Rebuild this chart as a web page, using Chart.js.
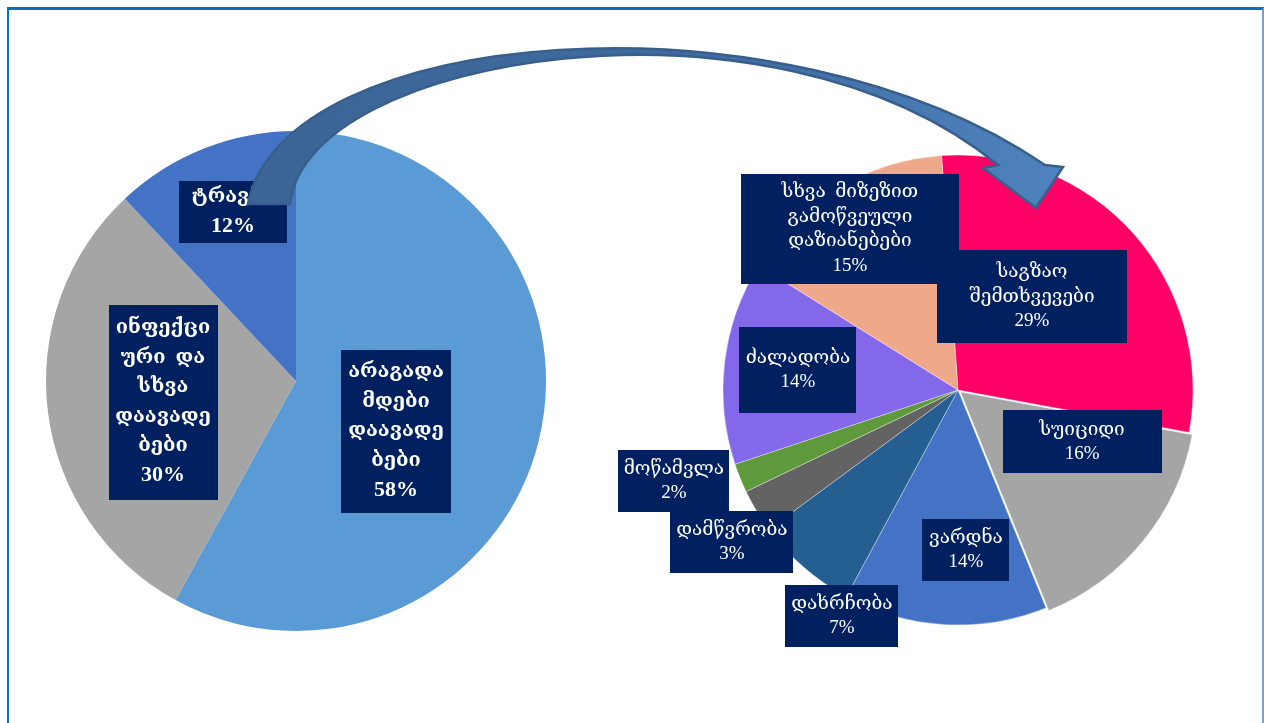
<!DOCTYPE html>
<html>
<head>
<meta charset="utf-8">
<script src="https://cdn.jsdelivr.net/npm/chart.js@4.4.1/dist/chart.umd.min.js"></script>
<style>
  html, body { margin: 0; padding: 0; background: #fff; overflow: hidden; width: 1264px; height: 723px; }
  #frame { position: absolute; left: 7px; top: 7px; width: 1257px; height: 780px; box-sizing: border-box;
           border-left: 2px solid #0B6FC1; border-top: 3px solid #0B6FC1; border-right: 2px solid #6FA3D6; }
  canvas { position: absolute; left: 0; top: 0; }
</style>
</head>
<body>
<div id="frame"></div>
<canvas id="leftPie" width="1264" height="723"></canvas>
<canvas id="rightPie" width="1264" height="723"></canvas>
<script>
// ---- Data: overall burden split ----
const leftCategories = ['არაგადამდები დაავადებები', 'ინფექციური და სხვა დაავადებები', 'ტრავმა'];
const leftValues = [58, 30, 12];
const leftLabelLines = [
  ['არაგადა', 'მდები', 'დაავადე', 'ბები'],
  ['ინფექცი', 'ური  და', 'სხვა', 'დაავადე', 'ბები'],
  ['ტრავმა']
];
const leftColors = ['#5B9BD5', '#A5A5A5', '#4472C4'];

// ---- Data: breakdown of injuries ----
const rightCategories = ['საგზაო შემთხვევები', 'სუიციდი', 'ვარდნა', 'დახრჩობა', 'დამწვრობა', 'მოწამვლა', 'ძალადობა', 'სხვა მიზეზით გამოწვეული დაზიანებები'];
const rightValues = [29, 16, 14, 7, 3, 2, 14, 15];
const rightLabelLines = [
  ['საგზაო', 'შემთხვევები'],
  ['სუიციდი'],
  ['ვარდნა'],
  ['დახრჩობა'],
  ['დამწვრობა'],
  ['მოწამვლა'],
  ['ძალადობა'],
  ['სხვა  მიზეზით', 'გამოწვეული', 'დაზიანებები']
];
const rightColors = ['#FF0066', '#A5A5A5', '#4472C4', '#255E91', '#636363', '#5E9A3C', '#8468EA', '#EFA88A'];
const rightOffsets = [0, 13, 0, 0, 0, 0, 0, 0];

// ---- Label box layout: centre as fraction of radius from pie centre, box size in px ----
const leftLabelBoxes = [
  { fx: 0.40, fy: 0.20, w: 110, h: 163 },
  { fx: -0.532, fy: 0.084, w: 109, h: 195 },
  { fx: -0.252, fy: -0.676, w: 108, h: 62 }
];
const rightLabelBoxes = [
  { fx: 0.315, fy: -0.396, w: 190, h: 93 },
  { fx: 0.528, fy: 0.221, w: 159, h: 63 },
  { fx: 0.034, fy: 0.681, w: 87, h: 62 },
  { fx: -0.494, fy: 0.962, w: 113, h: 62 },
  { fx: -0.962, fy: 0.647, w: 123, h: 62 },
  { fx: -1.209, fy: 0.387, w: 111, h: 62 },
  { fx: -0.681, fy: -0.085, w: 117, h: 86 },
  { fx: -0.46, fy: -0.685, w: 218, h: 110 }
];

const BOX_COLOR = '#002060';

function makeLabelPlugin(id, lines, boxes, textFont, valueFont, lineH) {
  return {
    id: id,
    afterDatasetsDraw(chart) {
      const meta = chart.getDatasetMeta(0);
      const data = chart.data.datasets[0].data;
      const ctx = chart.ctx;
      const cx = meta.data[0].x, cy = meta.data[0].y, R = meta.data[0].outerRadius;
      ctx.save();
      meta.data.forEach((arc, i) => {
        const b = boxes[i];
        const bx = cx + b.fx * R, by = cy + b.fy * R;
        ctx.fillStyle = BOX_COLOR;
        ctx.fillRect(Math.round(bx - b.w / 2), Math.round(by - b.h / 2), b.w, b.h);
        const textLines = lines[i].concat([data[i] + '%']);
        ctx.fillStyle = '#FFFFFF';
        ctx.textAlign = 'center';
        ctx.textBaseline = 'middle';
        const top = by - (textLines.length - 1) * lineH / 2;
        textLines.forEach((t, k) => {
          ctx.font = (k === textLines.length - 1) ? valueFont : textFont;
          ctx.fillText(t, bx, top + k * lineH);
        });
      });
      ctx.restore();
    }
  };
}

// Curved arrow leading from the left pie to the right pie
const arrowOuter = [[248, 204], [282, 25], [780, -15], [1045, 165]];
const arrowInner = [[290, 204], [305, 55], [770, -22], [998, 165]];
const arrowHead = [[1063, 167], [1036, 208], [983, 168]];

const arrowPlugin = {
  id: 'arrow',
  afterDraw(chart) {
    const ctx = chart.ctx;
    ctx.save();
    ctx.beginPath();
    const o = arrowOuter, n = arrowInner;
    ctx.moveTo(o[0][0], o[0][1]);
    ctx.bezierCurveTo(o[1][0], o[1][1], o[2][0], o[2][1], o[3][0], o[3][1]);
    arrowHead.forEach(p => ctx.lineTo(p[0], p[1]));
    ctx.lineTo(n[3][0], n[3][1]);
    ctx.bezierCurveTo(n[2][0], n[2][1], n[1][0], n[1][1], n[0][0], n[0][1]);
    ctx.closePath();
    const g = ctx.createLinearGradient(250, 0, 1060, 0);
    g.addColorStop(0, '#3C6595');
    g.addColorStop(0.55, '#3F6B9F');
    g.addColorStop(1, '#4F82BE');
    ctx.fillStyle = g;
    ctx.fill();
    ctx.lineWidth = 2.5;
    ctx.lineJoin = 'miter';
    ctx.strokeStyle = '#385E8C';
    ctx.stroke();
    ctx.restore();
  }
};

const LEFT_TEXT = 'bold 20px "Liberation Serif", "DejaVu Serif", serif';
const LEFT_VALUE = 'bold 22px "Liberation Serif", "DejaVu Serif", serif';
const RIGHT_TEXT = '19px "Liberation Serif", "DejaVu Serif", serif';
const RIGHT_VALUE = '19px "Liberation Serif", "DejaVu Serif", serif';

new Chart(document.getElementById('leftPie'), {
  type: 'pie',
  data: {
    labels: leftCategories,
    datasets: [{ data: leftValues, backgroundColor: leftColors, borderWidth: 0 }]
  },
  options: {
    responsive: false,
    animation: false,
    events: [],
    radius: 250,
    layout: { padding: { left: 46, right: 718, top: 131, bottom: 92 } },
    plugins: { legend: { display: false }, tooltip: { enabled: false } }
  },
  plugins: [makeLabelPlugin('leftLabels', leftLabelLines, leftLabelBoxes, LEFT_TEXT, LEFT_VALUE, 29.5)]
});

new Chart(document.getElementById('rightPie'), {
  type: 'pie',
  data: {
    labels: rightCategories,
    datasets: [{ data: rightValues, backgroundColor: rightColors, offset: rightOffsets,
                 borderWidth: 1, borderColor: 'rgba(255,255,255,0.35)' }]
  },
  options: {
    responsive: false,
    animation: false,
    events: [],
    radius: 235,
    rotation: -4,
    layout: { padding: { left: 708, right: 56, top: 140, bottom: 83 } },
    plugins: { legend: { display: false }, tooltip: { enabled: false } }
  },
  plugins: [makeLabelPlugin('rightLabels', rightLabelLines, rightLabelBoxes, RIGHT_TEXT, RIGHT_VALUE, 24.5), arrowPlugin]
});
</script>
</body>
</html>
